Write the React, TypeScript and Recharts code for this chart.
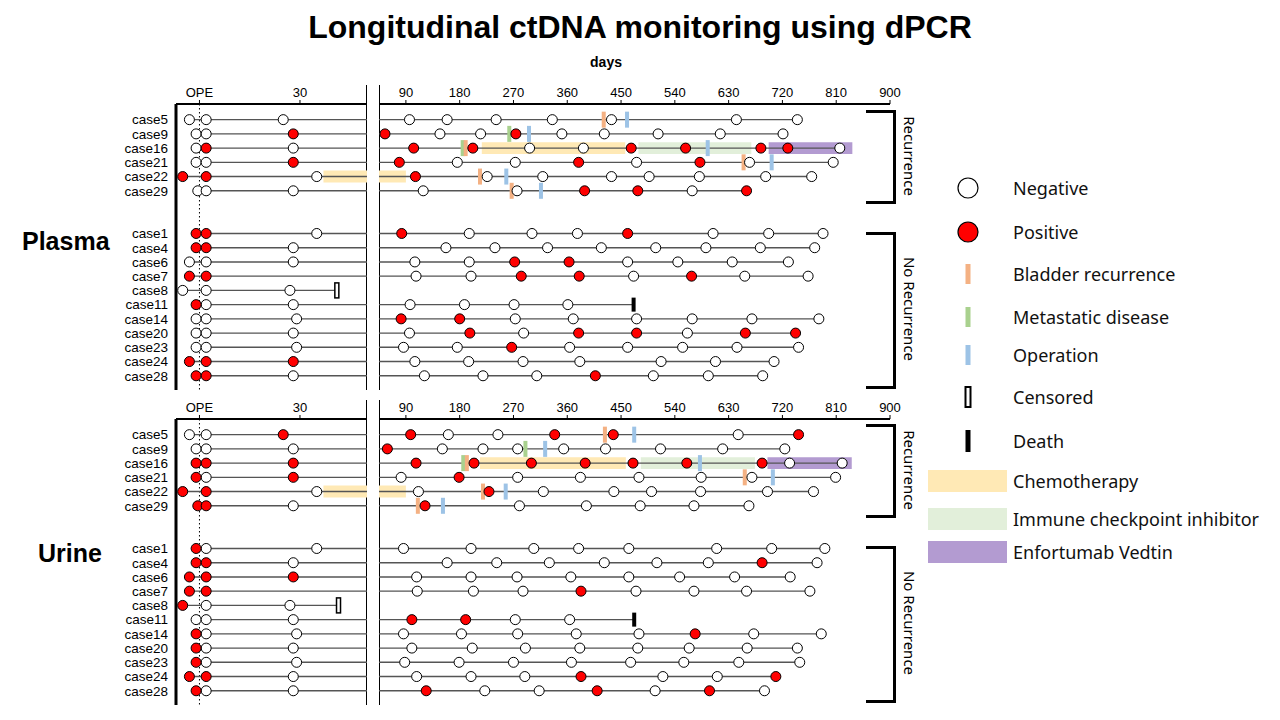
import React from "react";
import {
  ComposedChart,
  Scatter,
  XAxis,
  YAxis,
  ReferenceLine,
  ReferenceArea,
} from "recharts";

const FONT = "'Liberation Sans', Arial, sans-serif";
const LEGEND_FONT = "'Noto Sans', sans-serif";

// ── sampling days (relative to operation), negative / positive ctDNA ──
const plasmaRecurrence = [
  { id: "case5", neg: [-3, 2, 25, 96, 159, 241, 335, 434, 643, 745], pos: [] },
  { id: "case9", neg: [-1, 2, 147, 215, 351, 422, 512, 616, 721], pos: [28, 55, 274] },
  { id: "case16", neg: [-1, 28, 297, 387, 816], pos: [2, 103, 202, 467, 558, 684, 729] },
  { id: "case21", neg: [-1, 2, 176, 273, 476, 665, 805], pos: [28, 79, 379, 582] },
  { id: "case22", neg: [35, 226, 319, 434, 497, 581, 692, 769], pos: [-5, 2, 106] },
  { id: "case29", neg: [-0.5, 2, 28, 119, 276, 569], pos: [389, 478, 660] },
];

const plasmaNoRecurrence = [
  { id: "case1", neg: [35, 196, 301, 377, 604, 697, 788], pos: [-1, 2, 83, 461] },
  { id: "case4", neg: [28, 157, 239, 327, 417, 508, 592, 683, 774], pos: [-1, 2] },
  { id: "case6", neg: [-3, 2, 28, 105, 196, 461, 545, 636, 730], pos: [272, 363] },
  { id: "case7", neg: [107, 199, 471, 657, 763], pos: [-3, 2, 283, 380, 568] },
  { id: "case8", neg: [-5, 2, 27], pos: [] },
  { id: "case11", neg: [2, 28, 97, 188, 271, 361], pos: [-1] },
  { id: "case14", neg: [-1, 2, 29, 273, 370, 476, 569, 669, 781], pos: [82, 180] },
  { id: "case20", neg: [-1, 2, 28, 96, 287, 561], pos: [197, 379, 476, 658, 742] },
  { id: "case23", neg: [-1, 2, 29, 86, 176, 364, 461, 553, 644, 747], pos: [267] },
  { id: "case24", neg: [105, 195, 286, 381, 517, 608, 706], pos: [-3, 2, 28] },
  { id: "case28", neg: [28, 121, 219, 309, 504, 596, 687], pos: [-1, 2, 407] },
];

const urineRecurrence = [
  { id: "case5", neg: [-3, 2, 161, 244, 646], pos: [25, 98, 339, 437, 747] },
  { id: "case9", neg: [-1, 2, 28, 151, 219, 277, 354, 424, 516, 620, 724], pos: [59] },
  { id: "case16", neg: [732, 820], pos: [-1, 2, 28, 107, 204, 300, 390, 470, 560, 686] },
  { id: "case21", neg: [2, 82, 277, 382, 480, 584, 669, 809], pos: [-1, 28, 179] },
  { id: "case22", neg: [35, 111, 320, 438, 501, 583, 695, 772], pos: [-5, 2, 229] },
  { id: "case29", neg: [28, 280, 392, 482, 572, 664], pos: [-0.5, 2, 122] },
];

const urineNoRecurrence = [
  { id: "case1", neg: [2, 35, 86, 199, 304, 379, 463, 610, 702, 791], pos: [-1] },
  { id: "case4", neg: [28, 159, 242, 330, 422, 510, 596, 778], pos: [-1, 2, 686] },
  { id: "case6", neg: [108, 199, 276, 366, 463, 548, 640, 733], pos: [-3, 2, 28] },
  { id: "case7", neg: [109, 203, 286, 475, 572, 660, 766], pos: [-3, 2, 383] },
  { id: "case8", neg: [2, 27], pos: [-5] },
  { id: "case11", neg: [-1, 2, 28, 273, 364], pos: [100, 190] },
  { id: "case14", neg: [2, 29, 86, 183, 277, 375, 480, 672, 785], pos: [-1, 574] },
  { id: "case20", neg: [2, 28, 100, 201, 290, 381, 478, 564, 661, 745], pos: [-1] },
  { id: "case23", neg: [2, 29, 88, 179, 270, 367, 466, 555, 647, 749], pos: [-1] },
  { id: "case24", neg: [28, 108, 199, 289, 520, 611], pos: [-3, 2, 383, 709] },
  { id: "case28", neg: [2, 28, 222, 313, 507, 690], pos: [-1, 124, 410, 598] },
];

// ── clinical events ──
const plasmaBladder = [
  { id: "case5", day: 421 }, { id: "case16", day: 190 }, { id: "case21", day: 655 },
  { id: "case22", day: 214 }, { id: "case29", day: 267 },
];
const plasmaMetastatic = [{ id: "case9", day: 263 }, { id: "case16", day: 185 }];
const plasmaOperation = [
  { id: "case5", day: 460 }, { id: "case9", day: 296 }, { id: "case16", day: 595 },
  { id: "case21", day: 702 }, { id: "case22", day: 258 }, { id: "case29", day: 316 },
];
const plasmaChemo = [{ id: "case16", from: 217, to: 457 }, { id: "case22", from: 37, to: 90 }];
const plasmaIci = [{ id: "case16", from: 479, to: 668 }];
const plasmaEv = [{ id: "case16", from: 697, to: 837 }];
const plasmaCensored = [{ id: "case8", day: 41 }];
const plasmaDeath = [{ id: "case11", day: 471 }];

const urineBladder = [
  { id: "case5", day: 423 }, { id: "case16", day: 192 }, { id: "case21", day: 657 },
  { id: "case22", day: 219 }, { id: "case29", day: 110 },
];
const urineMetastatic = [{ id: "case9", day: 290 }, { id: "case16", day: 186 }];
const urineOperation = [
  { id: "case5", day: 472 }, { id: "case9", day: 323 }, { id: "case16", day: 582 },
  { id: "case21", day: 704 }, { id: "case22", day: 257 }, { id: "case29", day: 152 },
];
const urineChemo = [{ id: "case16", from: 214, to: 458 }, { id: "case22", from: 37, to: 90 }];
const urineIci = [{ id: "case16", from: 483, to: 674 }];
const urineEv = [{ id: "case16", from: 695, to: 836 }];
const urineCensored = [{ id: "case8", day: 41.5 }];
const urineDeath = [{ id: "case11", day: 472 }];

const LEFT_TICKS = [0, 30];
const RIGHT_TICKS = [90, 180, 270, 360, 450, 540, 630, 720, 810, 900];

const COLORS = {
  pos: "#ff0000",
  bladder: "#f4b183",
  metastatic: "#a9d18e",
  operation: "#9dc3e6",
  chemo: "#ffe9b5",
  ici: "#e2efda",
  ev: "#b39bd1",
  line: "#555555",
};

const Y_DOMAIN: [number, number] = [-1.1, 19];
const SPLIT = 45;

type Row = { id: string; neg: number[]; pos: number[]; row: number };
type Ev = { id: string; day: number };
type Band = { id: string; from: number; to: number };
type Panel = {
  rows: Row[];
  bladder: Ev[];
  metastatic: Ev[];
  operation: Ev[];
  chemo: Band[];
  ici: Band[];
  ev: Band[];
  censored: Ev[];
  death: Ev[];
};

function buildRows(rec: any[], norec: any[]): Row[] {
  return [
    ...rec.map((c, i) => ({ ...c, row: i })),
    ...norec.map((c, i) => ({ ...c, row: i + 8 })),
  ];
}

const PLASMA: Panel = {
  rows: buildRows(plasmaRecurrence, plasmaNoRecurrence),
  bladder: plasmaBladder,
  metastatic: plasmaMetastatic,
  operation: plasmaOperation,
  chemo: plasmaChemo,
  ici: plasmaIci,
  ev: plasmaEv,
  censored: plasmaCensored,
  death: plasmaDeath,
};

const URINE: Panel = {
  rows: buildRows(urineRecurrence, urineNoRecurrence),
  bladder: urineBladder,
  metastatic: urineMetastatic,
  operation: urineOperation,
  chemo: urineChemo,
  ici: urineIci,
  ev: urineEv,
  censored: urineCensored,
  death: urineDeath,
};

const dotShape = (fill: string) => (p: any) =>
  <circle cx={p.cx} cy={p.cy} r={5} fill={fill} stroke="#000" strokeWidth={1} />;

const tickShape = (fill: string, w: number, h: number, stroke?: string) => (p: any) =>
  (
    <rect
      x={p.cx - w / 2}
      y={p.cy - h / 2}
      width={w}
      height={h}
      fill={fill}
      stroke={stroke ?? "none"}
      strokeWidth={1.5}
    />
  );

function Segment({ panel, left, top }: { panel: Panel; left: boolean; top: number }) {
  const domain: [number, number] = left ? [-7, 50] : [SPLIT, 900];
  const inSeg = (d: number) => (left ? d < SPLIT : d >= SPLIT);
  const rowOf = (id: string) => panel.rows.find((r) => r.id === id)!.row;
  const pts = (evs: Ev[]) => evs.filter((e) => inSeg(e.day)).map((e) => ({ x: e.day, y: rowOf(e.id) }));

  const negPts = panel.rows.flatMap((r) => r.neg.filter(inSeg).map((d) => ({ x: d, y: r.row })));
  const posPts = panel.rows.flatMap((r) => r.pos.filter(inSeg).map((d) => ({ x: d, y: r.row })));

  const lines = panel.rows
    .map((r) => {
      const days = [...r.neg, ...r.pos].filter(inSeg);
      const cen = panel.censored.find((c) => c.id === r.id);
      const dth = panel.death.find((c) => c.id === r.id);
      if (left) {
        if (!days.length) return null;
        return { row: r.row, from: Math.min(...days), to: cen ? cen.day : domain[1] };
      }
      if (cen) return null;
      if (dth) days.push(dth.day);
      if (!days.length) return null;
      return { row: r.row, from: domain[0], to: Math.max(...days) };
    })
    .filter(Boolean) as { row: number; from: number; to: number }[];

  const bands = [
    ...panel.chemo.map((b) => ({ ...b, fill: COLORS.chemo })),
    ...panel.ici.map((b) => ({ ...b, fill: COLORS.ici })),
    ...panel.ev.map((b) => ({ ...b, fill: COLORS.ev })),
  ];

  const names: Record<number, string> = {};
  panel.rows.forEach((r) => (names[r.row] = r.id));

  const width = left ? 251 : 532;
  return (
    <div style={{ position: "absolute", left: left ? 116 : 379, top }}>
      <ComposedChart width={width} height={310} margin={{ top: 0, right: left ? 0 : 21, bottom: 0, left: 0 }}>
        <XAxis
          type="number"
          dataKey="x"
          orientation="top"
          domain={domain}
          allowDataOverflow
          ticks={left ? LEFT_TICKS : RIGHT_TICKS}
          interval={0}
          height={24}
          tickSize={4}
          tickMargin={3}
          axisLine={{ stroke: "#000", strokeWidth: 2 }}
          tickLine={{ stroke: "#000" }}
          tick={{ fontSize: 13, fill: "#000", fontFamily: FONT }}
          tickFormatter={(v) => (v === 0 ? "OPE" : String(v))}
        />
        <YAxis
          type="number"
          dataKey="y"
          domain={Y_DOMAIN}
          reversed
          allowDataOverflow
          hide={!left}
          width={60}
          ticks={panel.rows.map((r) => r.row)}
          interval={0}
          tickLine={false}
          axisLine={{ stroke: "#000", strokeWidth: 3 }}
          tick={{ fontSize: 13.5, fill: "#000", fontFamily: FONT }}
          tickFormatter={(v) => names[v] ?? ""}
        />
        {bands.map((b, i) => (
          <ReferenceArea
            key={"b" + i}
            x1={b.from}
            x2={b.to}
            y1={rowOf(b.id) - 0.42}
            y2={rowOf(b.id) + 0.42}
            fill={b.fill}
            fillOpacity={1}
            stroke="none"
            ifOverflow="hidden"
          />
        ))}
        {left && <ReferenceLine x={0} stroke="#000" strokeDasharray="1.5 2.5" />}
        {lines.map((l) => (
          <ReferenceLine
            key={"l" + l.row}
            segment={[{ x: l.from, y: l.row }, { x: l.to, y: l.row }]}
            stroke={COLORS.line}
            strokeWidth={1.4}
            ifOverflow="visible"
          />
        ))}
        <Scatter data={pts(panel.metastatic)} shape={tickShape(COLORS.metastatic, 4, 16)} isAnimationActive={false} />
        <Scatter data={pts(panel.bladder)} shape={tickShape(COLORS.bladder, 4, 16)} isAnimationActive={false} />
        <Scatter data={pts(panel.operation)} shape={tickShape(COLORS.operation, 4, 16)} isAnimationActive={false} />
        <Scatter data={pts(panel.censored)} shape={tickShape("#fff", 4, 15, "#000")} isAnimationActive={false} />
        <Scatter data={pts(panel.death)} shape={tickShape("#000", 4, 14)} isAnimationActive={false} />
        <Scatter data={negPts} shape={dotShape("#fff")} isAnimationActive={false} />
        <Scatter data={posPts} shape={dotShape(COLORS.pos)} isAnimationActive={false} />
      </ComposedChart>
    </div>
  );
}

function Bracket({ top, bottom, label }: { top: number; bottom: number; label: string }) {
  return (
    <>
      <div
        style={{
          position: "absolute",
          left: 866,
          top,
          width: 27,
          height: bottom - top - 3,
          borderTop: "3px solid #000",
          borderRight: "3px solid #000",
          borderBottom: "3px solid #000",
        }}
      />
      <div
        style={{
          position: "absolute",
          left: 910,
          top: (top + bottom) / 2,
          transform: "translate(-50%, -50%)",
          writingMode: "vertical-rl",
          fontFamily: LEGEND_FONT,
          fontSize: 15,
          whiteSpace: "nowrap",
        }}
      >
        {label}
      </div>
    </>
  );
}

function Separators({ axisY }: { axisY: number }) {
  const s = { position: "absolute" as const, top: axisY - 19, width: 1, height: 305, background: "#000" };
  return (
    <>
      <div style={{ ...s, left: 366 }} />
      <div style={{ ...s, left: 379 }} />
    </>
  );
}

const LEGEND_MARKS = [
  { label: "Negative", y: 188, kind: "neg" },
  { label: "Positive", y: 232, kind: "pos" },
  { label: "Bladder recurrence", y: 274, kind: "bladder" },
  { label: "Metastatic disease", y: 317, kind: "metastatic" },
  { label: "Operation", y: 355, kind: "operation" },
  { label: "Censored", y: 397, kind: "censored" },
  { label: "Death", y: 441, kind: "death" },
  { label: "Chemotherapy", y: 481, kind: "chemo" },
  { label: "Immune checkpoint inhibitor", y: 519, kind: "ici" },
  { label: "Enfortumab Vedtin", y: 552, kind: "ev" },
];

function LegendIcon({ kind }: { kind: string }) {
  if (kind === "neg" || kind === "pos")
    return <circle cx={40} cy={12} r={10} fill={kind === "pos" ? COLORS.pos : "#fff"} stroke="#000" strokeWidth={1.2} />;
  if (kind === "chemo" || kind === "ici" || kind === "ev")
    return <rect x={0} y={1} width={79} height={22} fill={(COLORS as any)[kind]} />;
  if (kind === "censored")
    return <rect x={37.5} y={2} width={5} height={20} fill="#fff" stroke="#000" strokeWidth={2} />;
  if (kind === "death") return <rect x={37.5} y={1} width={5} height={22} fill="#000" />;
  return <rect x={37.5} y={2} width={5} height={20} fill={(COLORS as any)[kind]} />;
}

function Legend() {
  return (
    <>
      {LEGEND_MARKS.map((m) => (
        <div key={m.label} style={{ position: "absolute", left: 928, top: m.y - 12, height: 24, display: "flex", alignItems: "center" }}>
          <svg width={80} height={24}>
            <LegendIcon kind={m.kind} />
          </svg>
          <span style={{ marginLeft: 5, fontFamily: LEGEND_FONT, fontSize: 18, whiteSpace: "nowrap", color: "#111" }}>{m.label}</span>
        </div>
      ))}
    </>
  );
}

export default function App() {
  return (
    <div style={{ position: "absolute", left: 0, top: 0, width: 1280, height: 720, background: "#fff", overflow: "hidden" }}>
      <div
        style={{
          position: "absolute",
          top: 9,
          width: 1280,
          textAlign: "center",
          fontFamily: FONT,
          fontWeight: "bold",
          fontSize: 32,
        }}
      >
        Longitudinal ctDNA monitoring using dPCR
      </div>
      <div style={{ position: "absolute", left: 606, top: 54, transform: "translateX(-50%)", fontFamily: FONT, fontWeight: "bold", fontSize: 14 }}>
        days
      </div>

      <Separators axisY={104} />
      <Segment panel={PLASMA} left top={80} />
      <Segment panel={PLASMA} left={false} top={80} />
      <div style={{ position: "absolute", left: 22, top: 227, fontFamily: FONT, fontWeight: "bold", fontSize: 25 }}>Plasma</div>

      <Separators axisY={419} />
      <Segment panel={URINE} left top={395} />
      <Segment panel={URINE} left={false} top={395} />
      <div style={{ position: "absolute", left: 38, top: 539, fontFamily: FONT, fontWeight: "bold", fontSize: 25 }}>Urine</div>

      <Bracket top={110} bottom={201} label="Recurrence" />
      <Bracket top={232} bottom={386} label="No Recurrence" />
      <Bracket top={424} bottom={515} label="Recurrence" />
      <Bracket top={546} bottom={700} label="No Recurrence" />

      <Legend />
    </div>
  );
}
